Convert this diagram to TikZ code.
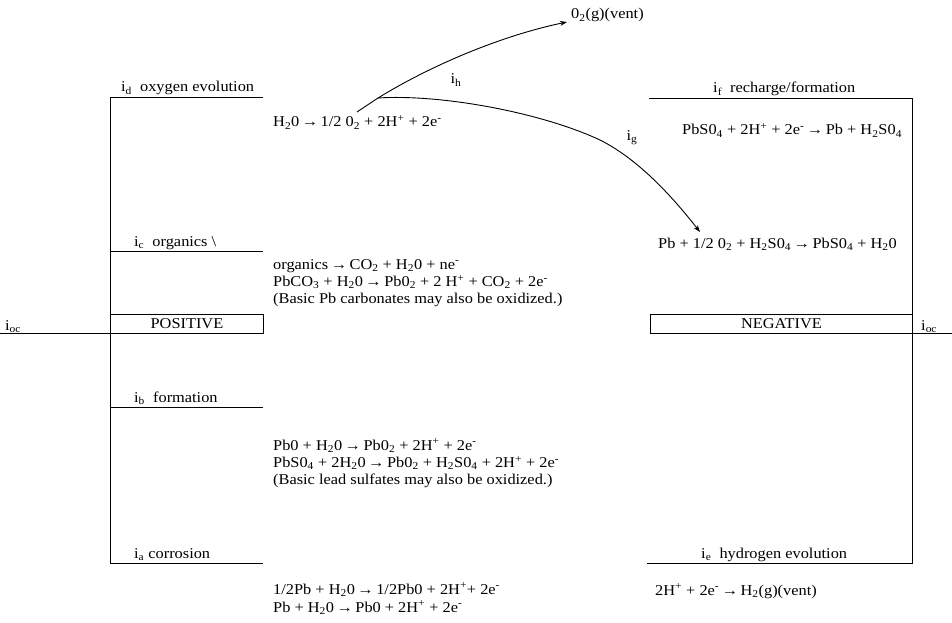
\documentclass[tikz,border=0pt]{standalone}
\usepackage{fontspec}
\setmainfont{Liberation Serif}[FakeStretch=1.09]
\usetikzlibrary{arrows.meta}
\newcommand{\sbs}[1]{\textsubscript{#1}}
\newcommand{\sps}[1]{\textsuperscript{#1}}
\newcommand{\ra}{\,\textrightarrow\,}
\begin{document}
\begin{tikzpicture}[x=1pt,y=-1pt,
  every node/.style={font=\fontsize{15}{16.5}\selectfont, inner sep=0pt},
  txt/.style={anchor=base west},
  ln/.style={line width=0.9pt},
  elbox/.style={draw, line width=0.9pt, anchor=north west, minimum height=18.5pt},
  flow/.style={line width=0.9pt, -{Stealth[length=7pt,width=5pt]}}]
\useasboundingbox (0,0) rectangle (952,623);

% ---------------- positive electrode (left) ----------------
\draw[ln] (263,97) -- (110,97) -- (110,563) -- (263,563);
\draw[ln] (110,251) -- (263,251);
\draw[ln] (110,407) -- (263,407);
\draw[ln] (0,333) -- (110,333);
\node[elbox, minimum width=153pt] (pos) at (110,314) {POSITIVE};

\node[txt] (id) at (121,92) {i\sbs{d}\ \ oxygen evolution};
\node[txt] (ic) at (134,246) {i\sbs{c}\ \ organics \textbackslash};
\node[txt] (ib) at (134,402) {i\sbs{b}\ \ formation};
\node[txt] (ia) at (134,558) {i\sbs{a} corrosion};
\node[txt] (iocl) at (5,330) {i\sbs{oc}};

\node[txt] (eqd) at (273,127) {H\sbs{2}0\ra 1/2 0\sbs{2} + 2H\sps{+} + 2e\sps{-}};
\node[txt] (eqc1) at (273,269) {organics\ra CO\sbs{2} + H\sbs{2}0 + ne\sps{-}};
\node[txt] (eqc2) at (273,286.5) {PbCO\sbs{3} + H\sbs{2}0\ra Pb0\sbs{2} + 2 H\sps{+} + CO\sbs{2} + 2e\sps{-}};
\node[txt] (eqc3) at (273,303.5) {(Basic Pb carbonates may also be oxidized.)};
\node[txt] (eqb1) at (273,450) {Pb0 + H\sbs{2}0\ra Pb0\sbs{2} + 2H\sps{+} + 2e\sps{-}};
\node[txt] (eqb2) at (273,467.5) {PbS0\sbs{4} + 2H\sbs{2}0\ra Pb0\sbs{2} + H\sbs{2}S0\sbs{4} + 2H\sps{+} + 2e\sps{-}};
\node[txt] (eqb3) at (273,484.5) {(Basic lead sulfates may also be oxidized.)};
\node[txt] (eqa1) at (273,594) {1/2Pb + H\sbs{2}0\ra 1/2Pb0 + 2H\sps{+}+ 2e\sps{-}};
\node[txt] (eqa2) at (273,612) {Pb + H\sbs{2}0\ra Pb0 + 2H\sps{+} + 2e\sps{-}};

% ---------------- negative electrode (right) ----------------
\draw[ln] (649,98) -- (912,98) -- (912,563) -- (647,563);
\draw[ln] (912,333) -- (952,333);
\node[elbox, minimum width=262pt] (neg) at (650,314) {NEGATIVE};

\node[txt] (if) at (713,93) {i\sbs{f}\ \ recharge/formation};
\node[txt] (ie) at (701,558) {i\sbs{e}\ \ hydrogen evolution};
\node[txt] (iocr) at (921,330) {i\sbs{oc}};

\node[txt] (eqf) at (682,135) {PbS0\sbs{4} + 2H\sps{+} + 2e\sps{-}\ra Pb + H\sbs{2}S0\sbs{4}};
\node[txt] (eqg) at (658,248) {Pb + 1/2 0\sbs{2} + H\sbs{2}S0\sbs{4}\ra PbS0\sbs{4} + H\sbs{2}0};
\node[txt] (eqe) at (655,595) {2H\sps{+} + 2e\sps{-}\ra H\sbs{2}(g)(vent)};

% ---------------- oxygen paths ----------------
\node[txt] (vent) at (571,19) {0\sbs{2}(g)(vent)};
\coordinate (start) at (357,112);
\coordinate (split) at (378,98);
\coordinate (ventin) at (567,22);
\coordinate (pbin) at (700,232);
\draw[ln] (start) -- (split);
\draw[flow] (split) .. controls (430,66) and (500,36) .. (ventin);
\draw[flow] (split) .. controls (440,94) and (540,112) .. (600,140)
                    .. controls (640,160) and (675,200) .. (pbin);
\node (ih) at (456,80) {i\sbs{h}};
\node (ig) at (632,138) {i\sbs{g}};
\end{tikzpicture}
\end{document}
